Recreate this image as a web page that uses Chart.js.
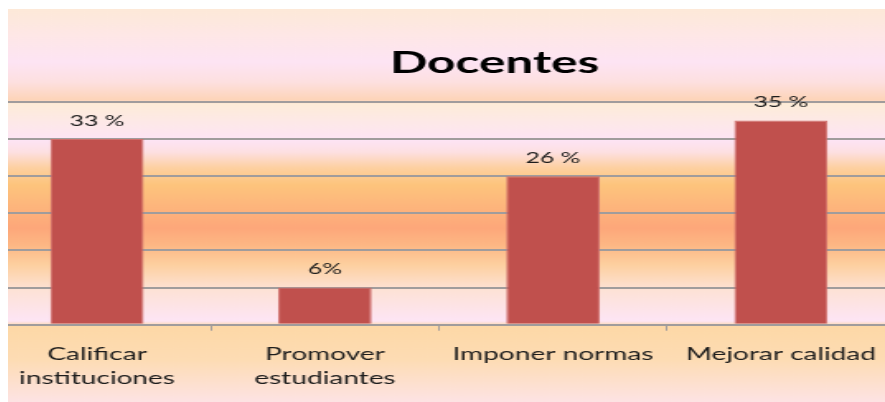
<!DOCTYPE html>
<html>
<head>
<meta charset="utf-8">
<script src="https://cdn.jsdelivr.net/npm/chart.js@4.4.1/dist/chart.umd.min.js"></script>
<style>
  html, body { margin: 0; padding: 0; background: #fff; }
  #wrap { position: absolute; left: 8px; top: 9px; width: 877px; height: 393px; overflow: hidden; }
  /* the original picture is stretched sideways, so the canvas is too */
  #statsChart { position: absolute; left: -25px; top: 0; width: 553px; height: 393px;
                transform: scaleX(1.649); transform-origin: 0 0; }
</style>
</head>
<body>
<div id="wrap"><canvas id="statsChart" width="553" height="393"></canvas></div>
<script>
// data
const categories = [['Calificar', 'instituciones'], ['Promover', 'estudiantes'], 'Imponer normas', 'Mejorar calidad'];
const counts = [10, 2, 8, 11];
const percentLabels = ['33 %', '6%', '26 %', '35 %'];
const yTicks = { min: 0, max: 12, step: 2 };
const chartTitle = 'Docentes';

const colors = {
    bar: '#c0504d',
    barEdge: '#cf6f6c',
    grid: '#a09c9c',
    text: '#1c1c1c'
};

// background gradient, stops by page y (page y 9 == canvas y 0)
const bgStops = [
    [9, '#fde9d8'], [35, '#fee7e6'], [62, '#fde4f4'], [82, '#fde0e0'], [100, '#fdd4b8'],
    [104, '#fdecd8'], [125, '#fde8ea'], [140, '#fde4f5'], [152, '#fde0e2'], [168, '#fdd0a0'],
    [185, '#fdc47c'], [205, '#fdb67c'], [228, '#fda77a'], [245, '#fdb784'], [265, '#fdd0a0'],
    [290, '#fde2d6'], [321, '#fde5f5'], [326, '#fdd8a6'], [360, '#fddcb4'], [402, '#fde3e4']
];

const backgroundFill = {
    id: 'backgroundFill',
    beforeDraw(chart) {
        const ctx = chart.ctx;
        const g = ctx.createLinearGradient(0, 0, 0, chart.height);
        bgStops.forEach(s => g.addColorStop(Math.min(1, Math.max(0, (s[0] - 9) / chart.height)), s[1]));
        ctx.save();
        ctx.fillStyle = g;
        ctx.fillRect(0, 0, chart.width, chart.height);
        ctx.restore();
    }
};

const titleAndLabels = {
    id: 'titleAndLabels',
    afterDatasetsDraw(chart) {
        const ctx = chart.ctx;
        ctx.save();
        ctx.textAlign = 'center';
        ctx.textBaseline = 'middle';

        ctx.font = 'bold 30px Lato, sans-serif';
        ctx.fillStyle = '#000';
        ctx.fillText(chartTitle, chart.width * 0.561, 54);

        ctx.font = '15px Lato, sans-serif';
        ctx.fillStyle = colors.text;
        chart.getDatasetMeta(0).data.forEach((bar, i) => {
            ctx.fillText(percentLabels[i], bar.x, bar.y - 18);
        });
        ctx.restore();
    }
};

new Chart(document.getElementById('statsChart'), {
    type: 'bar',
    data: {
        labels: categories,
        datasets: [{
            data: counts,
            backgroundColor: colors.bar,
            borderColor: colors.barEdge,
            borderWidth: 1,
            categoryPercentage: 1,
            barPercentage: 0.41
        }]
    },
    options: {
        responsive: false,
        devicePixelRatio: 1,
        animation: false,
        layout: { padding: { top: 93, left: 0, right: 0, bottom: 0 } },
        plugins: {
            legend: { display: false },
            title: { display: false },
            tooltip: { enabled: false }
        },
        scales: {
            x: {
                offset: true,
                border: { display: false },
                grid: {
                    offset: true,
                    drawOnChartArea: false,
                    drawTicks: true,
                    tickLength: 6,
                    color: colors.grid,
                    lineWidth: 1
                },
                ticks: {
                    padding: 11,
                    color: colors.text,
                    maxRotation: 0,
                    autoSkip: false,
                    font: { family: 'Lato, sans-serif', size: 17, lineHeight: 1.45 }
                }
            },
            y: {
                min: yTicks.min,
                max: yTicks.max,
                border: { display: false },
                grid: { color: colors.grid, lineWidth: 2, drawTicks: false },
                ticks: { display: false, stepSize: yTicks.step }
            }
        }
    },
    plugins: [backgroundFill, titleAndLabels]
});
</script>
</body>
</html>
